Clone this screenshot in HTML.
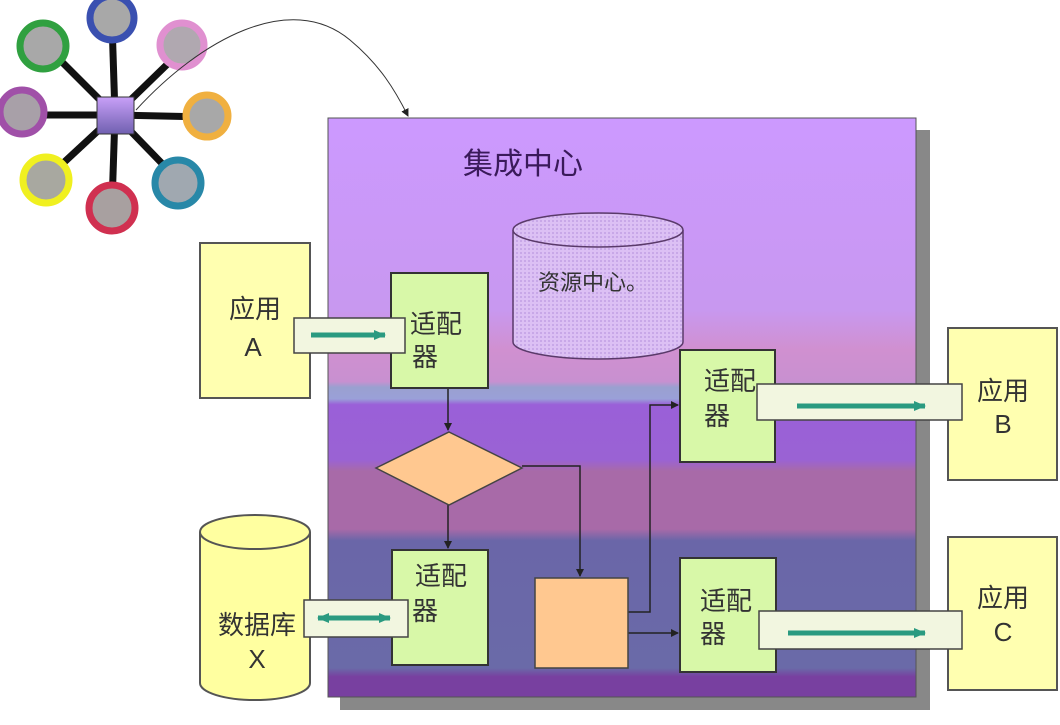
<!DOCTYPE html>
<html><head><meta charset="utf-8"><style>
body{margin:0;background:#fff;width:1060px;height:720px;overflow:hidden}
svg text{font-family:"Liberation Sans","Noto Sans CJK SC",sans-serif}
</style></head><body>
<svg width="1060" height="720" viewBox="0 0 1060 720" xmlns="http://www.w3.org/2000/svg">
<defs>
<linearGradient id="bg" x1="0" y1="0" x2="0" y2="1">
<stop offset="0" stop-color="#cc99ff"/>
<stop offset="0.33" stop-color="#c898f0"/>
<stop offset="0.40" stop-color="#d090d0"/>
<stop offset="0.455" stop-color="#c890d0"/>
<stop offset="0.465" stop-color="#9aa0d0"/>
<stop offset="0.485" stop-color="#9aa0d8"/>
<stop offset="0.495" stop-color="#9a60d8"/>
<stop offset="0.59" stop-color="#9a62d4"/>
<stop offset="0.61" stop-color="#a86aa8"/>
<stop offset="0.71" stop-color="#a86aa8"/>
<stop offset="0.73" stop-color="#6a66a8"/>
<stop offset="0.95" stop-color="#6a6aa8"/>
<stop offset="0.965" stop-color="#7840a0"/>
<stop offset="1" stop-color="#7840a0"/>
</linearGradient>
<linearGradient id="hub" x1="0" y1="0" x2="0" y2="1"><stop offset="0" stop-color="#c8a0f8"/><stop offset="1" stop-color="#7060b0"/></linearGradient>
<marker id="ah" markerWidth="8" markerHeight="8" refX="7" refY="4" orient="auto" markerUnits="userSpaceOnUse"><path d="M0,0 L8,4 L0,8 z" fill="#222"/></marker>
<marker id="ta" markerWidth="12" markerHeight="10" refX="11" refY="5" orient="auto" markerUnits="userSpaceOnUse"><path d="M0,0 L12,5 L0,10 z" fill="#2a9a80"/></marker>
<marker id="tb" markerWidth="12" markerHeight="10" refX="1" refY="5" orient="auto" markerUnits="userSpaceOnUse"><path d="M12,0 L0,5 L12,10 z" fill="#2a9a80"/></marker>
<pattern id="hatch" width="4" height="4" patternUnits="userSpaceOnUse"><rect width="4" height="4" fill="#dcc0f4"/><rect width="2" height="2" fill="#c8a8e8"/></pattern>
</defs>

<!-- hub -->
<g stroke="#111" stroke-width="7">
<line x1="115" y1="115" x2="112" y2="22"/><line x1="115" y1="115" x2="182" y2="50"/>
<line x1="115" y1="115" x2="45" y2="45"/><line x1="115" y1="115" x2="22" y2="115"/>
<line x1="115" y1="115" x2="207" y2="117"/><line x1="115" y1="115" x2="45" y2="180"/>
<line x1="115" y1="115" x2="112" y2="205"/><line x1="115" y1="115" x2="178" y2="180"/>
</g>
<g stroke-width="7">
<circle cx="112" cy="18" r="22" fill="#a8a8a8" stroke="#3a50b0"/>
<circle cx="182" cy="45" r="22" fill="#b0a8b0" stroke="#e090d0"/>
<circle cx="43" cy="46" r="23" fill="#a8a8a8" stroke="#30a040"/>
<circle cx="22" cy="112" r="22" fill="#a8a0a8" stroke="#a050a8"/>
<circle cx="207" cy="116" r="21" fill="#a8a8a8" stroke="#f0b040"/>
<circle cx="46" cy="180" r="23" fill="#a8a8a0" stroke="#f0f020"/>
<circle cx="112" cy="208" r="23" fill="#a8a0a0" stroke="#d03050"/>
<circle cx="178" cy="183" r="23" fill="#a0a8b0" stroke="#2888a8"/>
</g>
<rect x="97" y="97" width="37" height="37" fill="url(#hub)" stroke="#333"/>
<path d="M136,110 C200,40 290,-10 350,40 C380,65 395,90 408,116" fill="none" stroke="#333" stroke-width="1" marker-end="url(#ah)"/>

<!-- main box -->
<rect x="340" y="130" width="590" height="580" fill="#888"/>
<rect x="328" y="118" width="588" height="579" fill="url(#bg)" stroke="#555"/>
<text x="463" y="174" font-size="30" fill="#3a1a5a">集成中心</text>

<!-- resource center cylinder -->
<path d="M513,230 L513,342 A85,17 0 0 0 683,342 L683,230" fill="url(#hatch)" stroke="#5a3a6a" stroke-width="1.5"/>
<ellipse cx="598" cy="230" rx="85" ry="17" fill="url(#hatch)" stroke="#5a3a6a" stroke-width="1.5"/>
<text x="538" y="290" font-size="22" fill="#333">资源中心。</text>

<!-- connectors -->
<g stroke="#222" stroke-width="1.5" fill="none">
<line x1="448" y1="388" x2="448" y2="430" marker-end="url(#ah)"/>
<line x1="448" y1="505" x2="448" y2="548" marker-end="url(#ah)"/>
<polyline points="522,466 580,466 580,576" marker-end="url(#ah)"/>
<polyline points="628,612 650,612 650,405 678,405" marker-end="url(#ah)"/>
<line x1="628" y1="633" x2="678" y2="633" marker-end="url(#ah)"/>
</g>

<!-- diamond -->
<polygon points="449,432 522,468 449,505 376,468" fill="#ffc890" stroke="#444" stroke-width="1.5"/>
<!-- orange box -->
<rect x="535" y="578" width="93" height="90" fill="#ffc890" stroke="#444" stroke-width="1.5"/>

<!-- adapters -->
<g fill="#d8f8a8" stroke="#333" stroke-width="2">
<rect x="391" y="273" width="97" height="115"/>
<rect x="392" y="550" width="96" height="115"/>
<rect x="680" y="350" width="95" height="112"/>
<rect x="680" y="558" width="96" height="114"/>
</g>
<g font-size="26" fill="#333">
<text x="410" y="333">适配</text><text x="412" y="366">器</text>
<text x="415" y="585">适配</text><text x="412" y="620">器</text>
<text x="704" y="390">适配</text><text x="704" y="425">器</text>
<text x="700" y="610">适配</text><text x="700" y="643">器</text>
</g>

<!-- apps -->
<g fill="#ffffb0" stroke="#555" stroke-width="2">
<rect x="200" y="243" width="110" height="155"/>
<rect x="948" y="328" width="109" height="152"/>
<rect x="948" y="537" width="109" height="153"/>
</g>
<path d="M200,532 L200,683 A55,17 0 0 0 310,683 L310,532" fill="#ffffa0" stroke="#555" stroke-width="2"/>
<ellipse cx="255" cy="532" rx="55" ry="17" fill="#ffffa0" stroke="#555" stroke-width="2"/>
<g font-size="26" fill="#333" text-anchor="middle">
<text x="255" y="318">应用</text><text x="253" y="356" font-family="Liberation Serif">A</text>
<text x="1003" y="400">应用</text><text x="1003" y="433" font-family="Liberation Serif">B</text>
<text x="1003" y="607">应用</text><text x="1003" y="641" font-family="Liberation Serif">C</text>
<text x="257" y="634">数据库</text><text x="257" y="668" font-family="Liberation Serif">X</text>
</g>

<!-- bands -->
<g fill="#f2f6e0" stroke="#444" stroke-width="1.5">
<rect x="294" y="318" width="111" height="35"/>
<rect x="304" y="600" width="104" height="37"/>
<rect x="757" y="384" width="205" height="36"/>
<rect x="759" y="611" width="203" height="38"/>
</g>
<g stroke="#2a9a80" stroke-width="5">
<line x1="311" y1="335" x2="385" y2="335" marker-end="url(#ta)"/>
<line x1="318" y1="618" x2="390" y2="618" marker-end="url(#ta)" marker-start="url(#tb)"/>
<line x1="797" y1="406" x2="925" y2="406" marker-end="url(#ta)"/>
<line x1="788" y1="633" x2="925" y2="633" marker-end="url(#ta)"/>
</g>
</svg>
</body></html>
